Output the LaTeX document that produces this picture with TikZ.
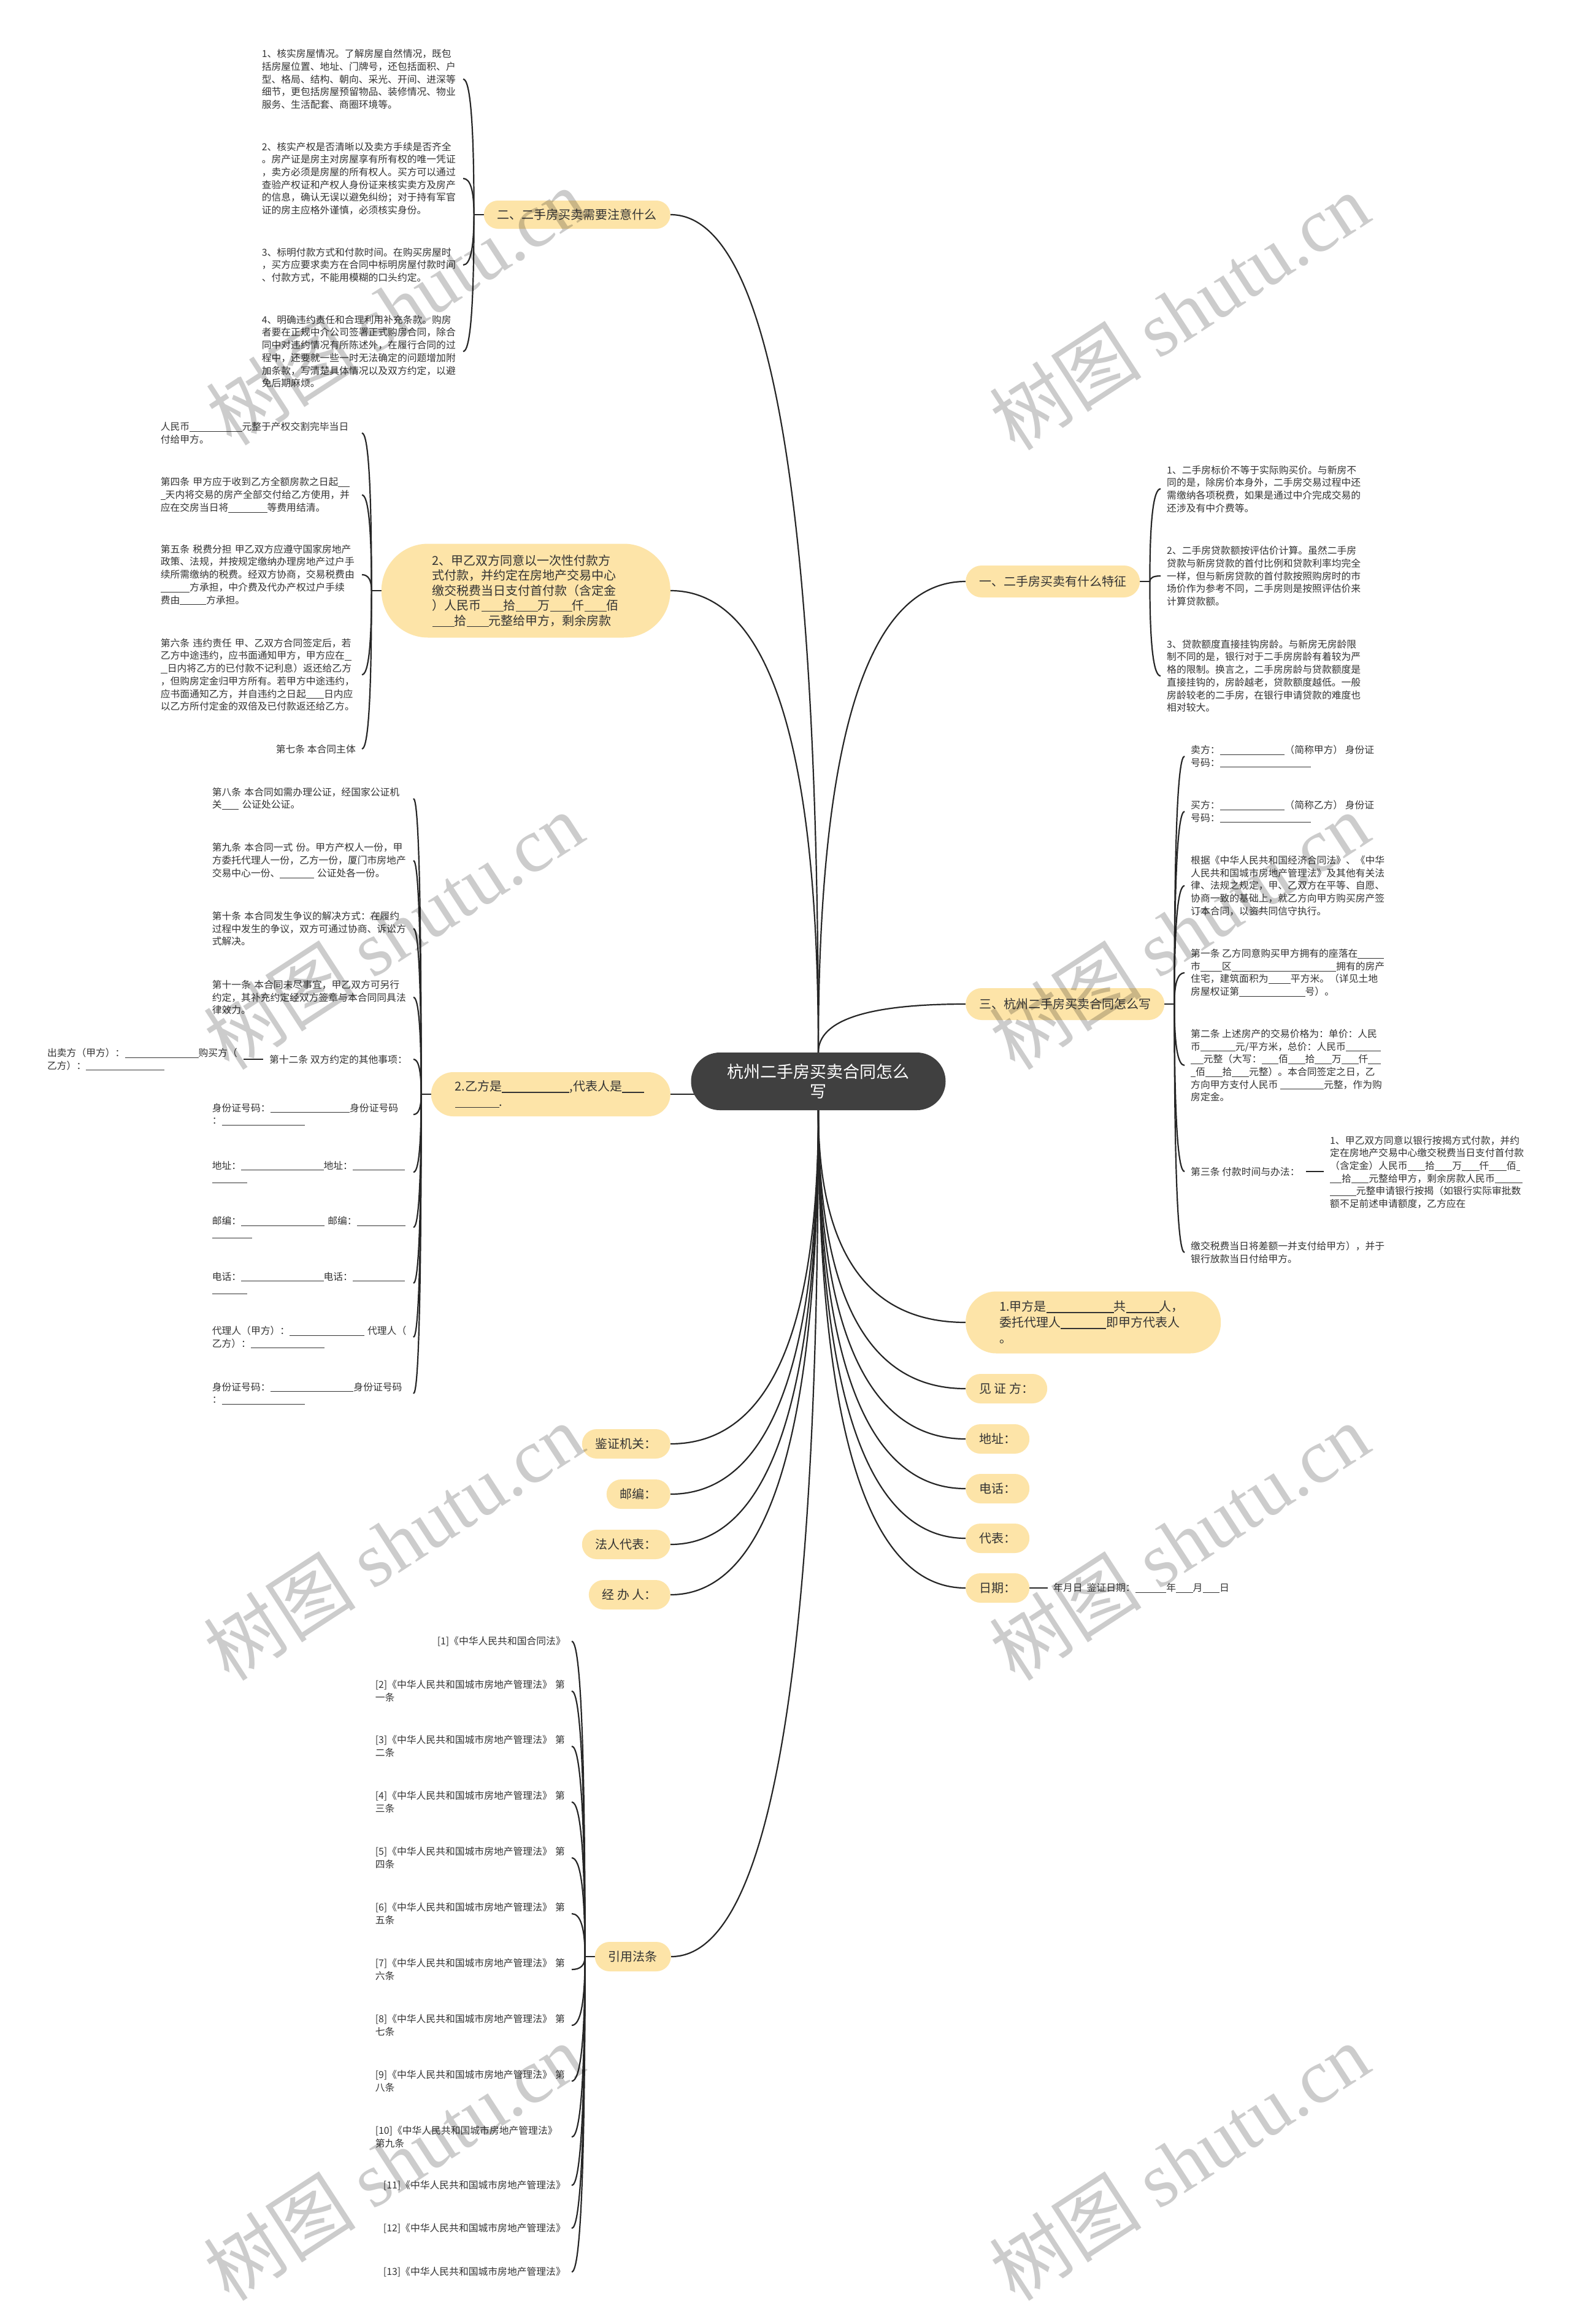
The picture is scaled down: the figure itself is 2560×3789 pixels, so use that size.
\documentclass[tikz,border=0pt]{standalone}
\usepackage{fontspec}
\setmainfont{Noto Sans CJK SC}
\newfontfamily\wmserif{Liberation Serif}
\usetikzlibrary{calc}
\definecolor{bub}{HTML}{FDE4A8}
\definecolor{rootc}{HTML}{404040}
\definecolor{linec}{HTML}{262626}
\definecolor{txt}{HTML}{333333}
\newcommand\bl[1]{\rule[-0.14em]{#1em}{0.06em}}
\pgfdeclarelayer{back}
\pgfdeclarelayer{bg}
\pgfsetlayers{back,bg,main}
\tikzset{
  conn/.style={draw=linec, line width=2.2pt},
  bubble/.style={fill=bub, text=txt, font=\fontsize{20}{24.5}\selectfont, inner xsep=22pt, inner ysep=0pt, minimum height=48pt, rounded corners=24pt},
  bigbub/.style={fill=bub, text=txt, font=\fontsize{20}{24.5}\selectfont, align=left, inner ysep=0pt},
  leaf/.style={text=txt, font=\fontsize{15.8}{20.7}\selectfont, inner xsep=10pt, inner ysep=3pt, align=left},
  leafw/.style={leaf, text width=#1},
  rootnode/.style={fill=rootc, text=white, font=\fontsize{27}{32}\selectfont, align=center, minimum width=415pt, minimum height=94pt, rounded corners=47pt, inner sep=0pt},
  wm/.style={text=black, text opacity=0.2, rotate=33, font=\fontsize{125}{125}\selectfont, inner sep=0pt}
}
\newcommand\cT[2]{\draw[conn] (#1) .. controls ($(#1)!0.667!(#1 |- #2)$) and ($(#2)!0.667!(#1 |- #2)$) .. (#2);}
\newcommand\cR[2]{\path (#1.east) ++(16,0) coordinate (tmpA); \draw[conn] (#1.east) -- (tmpA); \cT{tmpA}{#2.west}}
\newcommand\cL[2]{\path (#1.west) ++(-16,0) coordinate (tmpA); \draw[conn] (#1.west) -- (tmpA); \cT{tmpA}{#2.east}}
\begin{document}
\begin{tikzpicture}[x=1pt,y=-1pt]
\begin{pgfonlayer}{back}
\fill[white] (0,0) rectangle (2560,3789);
\end{pgfonlayer}
\useasboundingbox (0,0) rectangle (2560,3789);

% root
\node[rootnode] (root) at (1334,1763) {杭州二手房买卖合同怎么\\写};

% level 1 right
\node[bubble, anchor=west, minimum height=52pt, rounded corners=26pt] (R1) at (1574,948) {一、二手房买卖有什么特征};
\node[bubble, anchor=west, minimum height=52pt, rounded corners=26pt] (R3) at (1574,1637) {三、杭州二手房买卖合同怎么写};
\node[bigbub, anchor=west, text width=306pt, inner xsep=55pt, minimum height=101pt, rounded corners=50pt, font=\fontsize{20}{26}\selectfont] (RB1) at (1574,2156) {1.甲方是\bl{5.5}共\bl{2.7}人，\\委托代理人\bl{3.7}即甲方代表人\\。};
\node[bubble, anchor=west] (RB2) at (1574,2264) {见~证~方：};
\node[bubble, anchor=west] (RB3) at (1574,2346) {地址：};
\node[bubble, anchor=west] (RB4) at (1574,2427) {电话：};
\node[bubble, anchor=west] (RB5) at (1574,2508) {代表：};
\node[bubble, anchor=west] (RB6) at (1574,2589) {日期：};
\node[leaf, anchor=west, inner xsep=9pt] (RB6a) at (1708,2589) {年月日~~鉴证日期：\bl{3.2}年\bl{1.75}月\bl{1.75}日};

% level 1 left
\node[bubble, anchor=east, minimum height=46pt, rounded corners=23pt] (L1) at (1093,350) {二、二手房买卖需要注意什么};
\node[bigbub, anchor=east, text width=305pt, inner xsep=83pt, minimum height=153pt, rounded corners=76pt] (L2) at (1093,963) {2、甲乙双方同意以一次性付款方\\式付款，并约定在房地产交易中心\\缴交税费当日支付首付款（含定金\\）人民币\bl{1.8}拾\bl{1.8}万\bl{1.8}仟\bl{1.8}佰\\\bl{1.8}拾\bl{1.8}元整给甲方，剩余房款};
\node[bigbub, anchor=east, text width=312pt, inner xsep=39pt, minimum height=72pt, rounded corners=36pt] (L3) at (1093,1784) {2.乙方是\bl{5.5},代表人是\bl{1.8}\\\bl{3.6}.};
\node[bubble, anchor=east] (LB1) at (1093,2354) {鉴证机关：};
\node[bubble, anchor=east] (LB2) at (1093,2436) {邮编：};
\node[bubble, anchor=east] (LB3) at (1093,2518) {法人代表：};
\node[bubble, anchor=east] (LB4) at (1093,2600) {经~办~人：};
\node[bubble, anchor=east] (LB5) at (1094,3190) {引用法条};

% L1 children
\node[leafw=318pt, anchor=east] (L1a) at (755,129) {1、核实房屋情况。了解房屋自然情况，既包\\括房屋位置、地址、门牌号，还包括面积、户\\型、格局、结构、朝向、采光、开间、进深等\\细节，更包括房屋预留物品、装修情况、物业\\服务、生活配套、商圈环境等。};
\node[leafw=318pt, anchor=east] (L1b) at (755,291) {2、核实产权是否清晰以及卖方手续是否齐全\\。房产证是房主对房屋享有所有权的唯一凭证\\，卖方必须是房屋的所有权人。买方可以通过\\查验产权证和产权人身份证来核实卖方及房产\\的信息，确认无误以避免纠纷；对于持有军官\\证的房主应格外谨慎，必须核实身份。};
\node[leafw=318pt, anchor=east] (L1c) at (755,432) {3、标明付款方式和付款时间。在购买房屋时\\，买方应要求卖方在合同中标明房屋付款时间\\、付款方式，不能用模糊的口头约定。};
\node[leafw=318pt, anchor=east] (L1d) at (755,573) {4、明确违约责任和合理利用补充条款。购房\\者要在正规中介公司签署正式购房合同，除合\\同中对违约情况有所陈述外，在履行合同的过\\程中，还要就一些一时无法确定的问题增加附\\加条款，写清楚具体情况以及双方约定，以避\\免后期麻烦。};

% L2 children
\node[leafw=318pt, anchor=east] (L2a) at (590,706) {人民币\bl{5.4}元整于产权交割完毕当日\\付给甲方。};
\node[leafw=318pt, anchor=east] (L2b) at (590,807) {第四条~甲方应于收到乙方全额房款之日起\bl{1.2}\\\bl{0.5}天内将交易的房产全部交付给乙方使用，并\\应在交房当日将\bl{4}等费用结清。};
\node[leafw=318pt, anchor=east] (L2c) at (590,937) {第五条~税费分担~甲乙双方应遵守国家房地产\\政策、法规，并按规定缴纳办理房地产过户手\\续所需缴纳的税费。经双方协商，交易税费由\\\bl{3}方承担，中介费及代办产权过户手续\\费由\bl{2.7}方承担。};
\node[leafw=318pt, anchor=east] (L2d) at (590,1100) {第六条~违约责任~甲、乙双方合同签定后，若\\乙方中途违约，应书面通知甲方，甲方应在\bl{0.7}\\\bl{0.7}日内将乙方的已付款不记利息）返还给乙方\\，但购房定金归甲方所有。若甲方中途违约，\\应书面通知乙方，并自违约之日起\bl{1.85}日内应\\以乙方所付定金的双倍及已付款返还给乙方。};
\node[leaf, anchor=east] (L2e) at (590,1221) {第七条~本合同主体};

% L3 children
\node[leafw=318pt, anchor=east] (L3a) at (674,1302) {第八条~本合同如需办理公证，经国家公证机\\关\bl{1.75}~公证处公证。};
\node[leafw=318pt, anchor=east] (L3b) at (674,1403) {第九条~本合同一式~份。甲方产权人一份，甲\\方委托代理人一份，乙方一份，厦门市房地产\\交易中心一份、\bl{3.5}~公证处各一份。};
\node[leafw=318pt, anchor=east] (L3c) at (674,1514) {第十条~本合同发生争议的解决方式：在履约\\过程中发生的争议，双方可通过协商、诉讼方\\式解决。};
\node[leafw=318pt, anchor=east] (L3d) at (674,1626) {第十一条~本合同未尽事宜，甲乙双方可另行\\约定，其补充约定经双方签章与本合同同具法\\律效力。};
\node[leaf, anchor=east] (L3e) at (674,1727) {第十二条~双方约定的其他事项：};
\node[leaf, anchor=east] (L3e1) at (397,1727) {出卖方（甲方）：\bl{7.6}购买方（\\乙方）：\bl{8.1}};
\node[leafw=318pt, anchor=east] (L3f) at (674,1817) {身份证号码：\bl{8.2}身份证号码\\：\bl{8.6}};
\node[leafw=318pt, anchor=east] (L3g) at (674,1911) {地址：\bl{8.5}地址：\bl{5.4}\\\bl{3.6}};
\node[leafw=318pt, anchor=east] (L3h) at (674,2001) {邮编：\bl{8.6}~邮编：\bl{5}\\\bl{4.1}};
\node[leafw=318pt, anchor=east] (L3i) at (674,2092) {电话：\bl{8.5}电话：\bl{5.4}\\\bl{3.6}};
\node[leafw=318pt, anchor=east] (L3j) at (674,2180) {代理人（甲方）：\bl{7.7}~代理人（\\乙方）：\bl{7.6}};
\node[leafw=318pt, anchor=east] (L3k) at (674,2272) {身份证号码：\bl{8.6}身份证号码\\：\bl{8.6}};

% R1 children
\node[leaf, anchor=west] (R1a) at (1892,797) {1、二手房标价不等于实际购买价。与新房不\\同的是，除房价本身外，二手房交易过程中还\\需缴纳各项税费，如果是通过中介完成交易的\\还涉及有中介费等。};
\node[leaf, anchor=west] (R1b) at (1892,939) {2、二手房贷款额按评估价计算。虽然二手房\\贷款与新房贷款的首付比例和贷款利率均完全\\一样，但与新房贷款的首付款按照购房时的市\\场价作为参考不同，二手房则是按照评估价来\\计算贷款额。};
\node[leaf, anchor=west] (R1c) at (1892,1102) {3、贷款额度直接挂钩房龄。与新房无房龄限\\制不同的是，银行对于二手房房龄有着较为严\\格的限制。换言之，二手房房龄与贷款额度是\\直接挂钩的，房龄越老，贷款额度越低。一般\\房龄较老的二手房，在银行申请贷款的难度也\\相对较大。};

% R3 children
\node[leaf, anchor=west] (R3a) at (1931,1233) {卖方：\bl{6.7}（简称甲方）~身份证\\号码：\bl{9.4}};
\node[leaf, anchor=west] (R3b) at (1931,1323) {买方：\bl{6.7}（简称乙方）~身份证\\号码：\bl{9.4}};
\node[leaf, anchor=west] (R3c) at (1931,1444) {根据《中华人民共和国经济合同法》、《中华\\人民共和国城市房地产管理法》及其他有关法\\律、法规之规定，甲、乙双方在平等、自愿、\\协商一致的基础上，就乙方向甲方购买房产签\\订本合同，以资共同信守执行。};
\node[leaf, anchor=west] (R3d) at (1931,1586) {第一条~乙方同意购买甲方拥有的座落在\bl{2.7}\\市\bl{2.2}区\bl{10.8}拥有的房产\\住宅，建筑面积为\bl{2.3}平方米。（详见土地\\房屋权证第\bl{6.8}号）。};
\node[leaf, anchor=west] (R3e) at (1931,1737) {第二条~上述房产的交易价格为：单价：人民\\币\bl{3.6}元/平方米，总价：人民币\bl{3.6}\\\bl{1.3}元整（大写：\bl{1.75}佰\bl{1.75}拾\bl{1.75}万\bl{1.75}仟\bl{1.3}\\\bl{0.5}佰\bl{1.75}拾\bl{1.75}元整）。本合同签定之日，乙\\方向甲方支付人民币~\bl{4.5}元整，作为购\\房定金。};
\node[leaf, anchor=west] (R3f) at (1931,1910) {第三条~付款时间与办法：};
\node[leaf, anchor=west] (R3f1) at (2158,1911) {1、甲乙双方同意以银行按揭方式付款，并约\\定在房地产交易中心缴交税费当日支付首付款\\（含定金）人民币\bl{1.8}拾\bl{1.8}万\bl{1.8}仟\bl{1.8}佰\bl{0.4}\\\bl{1.2}拾\bl{1.8}元整给甲方，剩余房款人民币\bl{2.85}\\\bl{2.7}元整申请银行按揭（如银行实际审批数\\额不足前述申请额度，乙方应在};
\node[leaf, anchor=west] (R3g) at (1931,2042) {缴交税费当日将差额一并支付给甲方），并于\\银行放款当日付给甲方。};

% law list
\node[leaf, anchor=east] (Q1) at (932,2676) {[1]《中华人民共和国合同法》};
\node[leafw=310pt, anchor=east] (Q2) at (932,2757) {[2]《中华人民共和国城市房地产管理法》~第\\一条};
\node[leafw=310pt, anchor=east] (Q3) at (932,2847) {[3]《中华人民共和国城市房地产管理法》~第\\二条};
\node[leafw=310pt, anchor=east] (Q4) at (932,2938) {[4]《中华人民共和国城市房地产管理法》~第\\三条};
\node[leafw=310pt, anchor=east] (Q5) at (932,3029) {[5]《中华人民共和国城市房地产管理法》~第\\四条};
\node[leafw=310pt, anchor=east] (Q6) at (932,3120) {[6]《中华人民共和国城市房地产管理法》~第\\五条};
\node[leafw=310pt, anchor=east] (Q7) at (932,3211) {[7]《中华人民共和国城市房地产管理法》~第\\六条};
\node[leafw=310pt, anchor=east] (Q8) at (932,3302) {[8]《中华人民共和国城市房地产管理法》~第\\七条};
\node[leafw=310pt, anchor=east] (Q9) at (932,3393) {[9]《中华人民共和国城市房地产管理法》~第\\八条};
\node[leafw=310pt, anchor=east] (Q10) at (932,3484) {[10]《中华人民共和国城市房地产管理法》\\第九条};
\node[leaf, anchor=east] (Q11) at (932,3563) {[11]《中华人民共和国城市房地产管理法》};
\node[leaf, anchor=east] (Q12) at (932,3633) {[12]《中华人民共和国城市房地产管理法》};
\node[leaf, anchor=east] (Q13) at (932,3704) {[13]《中华人民共和国城市房地产管理法》};

% connectors
\begin{pgfonlayer}{bg}
\cT{root.north}{R1.west}
\cT{root.north}{R3.west}
\cT{root.north}{L1.east}
\cT{root.north}{L2.east}
\draw[conn] (L3.east) -- (root.center |- L3.east);
\foreach \n in {RB1,RB2,RB3,RB4,RB5,RB6} {\cT{root.south}{\n.west}}
\foreach \n in {LB1,LB2,LB3,LB4,LB5} {\cT{root.south}{\n.east}}
\foreach \n in {R1a,R1b,R1c} {\cR{R1}{\n}}
\foreach \n in {R3a,R3b,R3c,R3d,R3e,R3f,R3g} {\cR{R3}{\n}}
\foreach \n in {L1a,L1b,L1c,L1d} {\cL{L1}{\n}}
\foreach \n in {L2a,L2b,L2c,L2d,L2e} {\cL{L2}{\n}}
\foreach \n in {L3a,L3b,L3c,L3d,L3e,L3f,L3g,L3h,L3i,L3j,L3k} {\cL{L3}{\n}}
\foreach \n in {Q1,Q2,Q3,Q4,Q5,Q6,Q7,Q8,Q9,Q10,Q11,Q12,Q13} {\cL{LB5}{\n}}
\draw[conn] (R3f.east) -- (R3f.east -| R3f1.west);
\draw[conn] (L3e.west) -- (L3e.west -| L3e1.east);
\draw[conn] (RB6.east) -- (RB6.east -| RB6a.west);
\end{pgfonlayer}

% watermarks
\foreach \p in {(645,500),(1922,508),(641,1518),(1922,1518),(641,2514),(1922,2514),(641,3525),(1922,3525)} {
  \node[wm] at \p {树图~{\wmserif shutu.cn}};
}
\end{tikzpicture}
\end{document}
